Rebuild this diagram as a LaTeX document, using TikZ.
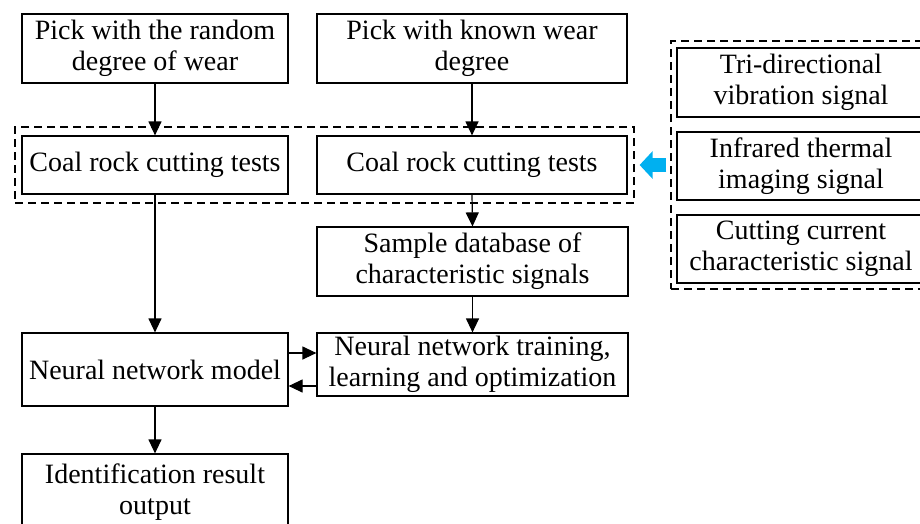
\documentclass[tikz,border=0pt]{standalone}
\usepackage{fontspec}
\setmainfont{Liberation Serif}
\usetikzlibrary{arrows.meta}
\begin{document}
\begin{tikzpicture}[x=1pt,y=-1pt,
  box/.style={draw,line width=1.2pt,rectangle,inner sep=0pt,align=center,
    font=\fontsize{28}{31}\selectfont},
  dbox/.style={draw,line width=1.2pt,dash pattern=on 8pt off 5pt,rectangle,inner sep=0pt},
  arr/.style={line width=1.2pt,-{Triangle[length=14pt,width=13pt]}},
  bluearr/.style={line width=14pt,draw={rgb,255:red,0;green,176;blue,240},
    -{Triangle[length=13pt,width=27pt]},shorten >=5pt,shorten <=4pt}]
\useasboundingbox (0,0) rectangle (920,523);
% left column
\node[box,minimum width=266pt,minimum height=69pt] (a) at (155,48.5) {Pick with the random\\degree of wear};
\node[box,minimum width=266pt,minimum height=58pt] (c1) at (155,165) {Coal rock cutting tests};
\node[box,minimum width=266pt,minimum height=73pt] (nn) at (155,369.5) {Neural network model};
\node[box,minimum width=266pt,minimum height=76pt] (id) at (155,492) {Identification result\\output};
% middle column
\node[box,minimum width=310pt,minimum height=69pt] (b) at (472,48.5) {Pick with known wear\\degree};
\node[box,minimum width=310pt,minimum height=58pt] (c2) at (472,165) {Coal rock cutting tests};
\node[box,minimum width=311pt,minimum height=69pt] (s) at (472.5,261.5) {Sample database of\\characteristic signals};
\node[box,minimum width=311pt,minimum height=63pt] (t) at (472.5,364.5) {Neural network training,\\learning and optimization};
% dashed group around tests
\node[dbox,minimum width=619pt,minimum height=76pt] (d1) at (324.5,165) {};
% right column
\node[box,minimum width=248pt,minimum height=69pt] (r1) at (801,82.5) {Tri-directional\\vibration signal};
\node[box,minimum width=248pt,minimum height=68pt] (r2) at (801,166) {Infrared thermal\\imaging signal};
\node[box,minimum width=248pt,minimum height=68pt] (r3) at (801,249) {Cutting current\\characteristic signal};
\node[dbox,minimum width=262pt,minimum height=248pt] (d2) at (802,165) {};
% connectors
\draw[arr] (a.south) -- (c1.north);
\draw[arr] (b.south) -- (c2.north);
\draw[arr] (c1.south) -- (nn.north);
\draw[arr] (c2.south) -- (s.north);
\draw[arr] (s.south) -- (t.north);
\draw[arr] (nn.south) -- (id.north);
\draw[arr] (nn.east |- 0,353) -- (t.west |- 0,353);
\draw[arr] (t.west |- 0,386) -- (nn.east |- 0,386);
\draw[bluearr] (d2.west) -- (d1.east);
\end{tikzpicture}
\end{document}
